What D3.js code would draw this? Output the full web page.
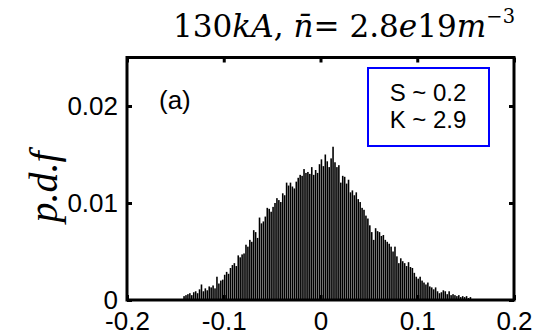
<!DOCTYPE html>
<html><head><meta charset="utf-8">
<script src="https://cdn.jsdelivr.net/npm/d3@7/dist/d3.min.js"></script>
<style>body{margin:0;background:#fff}svg{display:block}</style>
</head><body>
<svg id="c" width="535" height="336"></svg>
<script>
const binStart = -0.142;
const binWidth = 0.002;
const pdfValues = [
0.0004,0.0005,0.0006,0.0007,0.0005,0.0008,0.0009,0.0007,0.0011,0.0016,
0.0009,0.0012,0.0010,0.0014,0.0013,0.0015,0.0012,0.0024,0.0017,0.0020,
0.0021,0.0026,0.0029,0.0027,0.0033,0.0036,0.0038,0.0035,0.0046,0.0044,
0.0047,0.0048,0.0057,0.0055,0.0062,0.0060,0.0072,0.0070,0.0064,0.0085,
0.0079,0.0081,0.0086,0.0095,0.0094,0.0091,0.0096,0.0100,0.0105,0.0103,
0.0101,0.0110,0.0108,0.0121,0.0118,0.0121,0.0117,0.0115,0.0122,0.0126,
0.0129,0.0128,0.0135,0.0131,0.0132,0.0130,0.0137,0.0129,0.0134,0.0131,
0.0140,0.0145,0.0138,0.0150,0.0143,0.0137,0.0146,0.0158,0.0142,0.0137,
0.0139,0.0121,0.0128,0.0127,0.0120,0.0124,0.0111,0.0113,0.0108,0.0111,
0.0104,0.0101,0.0095,0.0093,0.0087,0.0084,0.0077,0.0070,0.0062,0.0074,
0.0071,0.0070,0.0066,0.0067,0.0062,0.0060,0.0058,0.0055,0.0050,0.0055,
0.0045,0.0038,0.0043,0.0040,0.0038,0.0035,0.0039,0.0034,0.0033,0.0028,
0.0024,0.0022,0.0024,0.0020,0.0018,0.0016,0.0018,0.0014,0.0013,0.0011,
0.0013,0.0009,0.0007,0.0008,0.0010,0.0009,0.0006,0.0009,0.0005,0.0006,
0.0005,0.0004,0.0005,0.0003,0.0004,0.0003,0.0004,0.0002,0.0003
];
const xTicks = [-0.2, -0.1, 0, 0.1, 0.2];
const yTicks = [0, 0.01, 0.02];
const statLines = ["S ~ 0.2", "K ~ 2.9"];
const panelLabel = "(a)";

const svg = d3.select("#c");
const L = 127, R = 514, T = 57.5, B = 300;
const x = d3.scaleLinear().domain([-0.2, 0.2]).range([L, R]);
const y = d3.scaleLinear().domain([0, 0.025]).range([B, T]);
const tickFont = "'Liberation Sans', Arial, sans-serif";

// bars
svg.append("g").selectAll("rect").data(pdfValues).join("rect")
  .attr("x", (d,i) => x(binStart + i*binWidth) + 0.15)
  .attr("width", (d,i) => x(binStart + (i+1)*binWidth) - x(binStart + i*binWidth) - 0.35)
  .attr("y", d => y(d))
  .attr("height", d => y(0) - y(d))
  .attr("fill", "#000");

// axes (matlab box with inner ticks)
const ax = svg.append("g");
ax.append("g").attr("transform", `translate(0,${B})`)
  .call(d3.axisBottom(x).tickValues(xTicks).tickSize(-5).tickPadding(12)
    .tickFormat(d => d === 0 ? "0" : d3.format(".1f")(d).replace("−","-")));
ax.append("g").attr("transform", `translate(0,${T})`)
  .call(d3.axisTop(x).tickValues(xTicks).tickSize(-5).tickFormat(""));
ax.append("g").attr("transform", `translate(${L},0)`)
  .call(d3.axisLeft(y).tickValues(yTicks).tickSize(-5).tickPadding(9)
    .tickFormat(d => d === 0 ? "0" : d3.format(".2f")(d)));
ax.append("g").attr("transform", `translate(${R},0)`)
  .call(d3.axisRight(y).tickValues(yTicks).tickSize(-5).tickFormat(""));
ax.selectAll(".domain").remove();
ax.selectAll(".tick line").attr("stroke", "#000").attr("stroke-width", 3);
ax.selectAll(".tick text").attr("font-family", tickFont).attr("font-size", 26).attr("fill", "#000");
svg.append("rect").attr("x", L).attr("y", T).attr("width", R-L).attr("height", B-T)
  .attr("fill", "none").attr("stroke", "#000").attr("stroke-width", 3);

// panel label
svg.append("text").attr("x", 159).attr("y", 109).attr("font-family", tickFont)
  .attr("font-size", 26).text(panelLabel);

// stat box
svg.append("rect").attr("x", 368).attr("y", 68).attr("width", 121).attr("height", 78)
  .attr("fill", "#fff").attr("stroke", "#0000ff").attr("stroke-width", 2);
svg.append("g").selectAll("text").data(statLines).join("text")
  .attr("x", 428).attr("y", (d,i) => 101 + i*27).attr("text-anchor", "middle")
  .attr("font-family", tickFont).attr("font-size", 24).text(d => d);

// title
const serif = "'DejaVu Serif', 'Liberation Serif', serif";
const title = svg.append("text").attr("x", 0).attr("y", 0)
  .attr("font-family", serif).attr("font-size", 32);
title.append("tspan").text("130");
title.append("tspan").attr("font-style", "italic").text("kA");
title.append("tspan").text(", ");
title.append("tspan").attr("font-style", "italic").text("n\u0304");
title.append("tspan").text("= 2.8");
title.append("tspan").attr("font-style", "italic").text("e");
title.append("tspan").text("19");
title.append("tspan").attr("font-style", "italic").text("m");
title.append("tspan").attr("font-size", 20).attr("dy", -14).text("\u22123");
const tb = title.node().getBBox();
const sx = (515 - 173) / tb.width;
title.attr("transform", `translate(${173 - tb.x*sx},37) scale(${sx},1)`);

// y label
const ylab = svg.append("text").attr("text-anchor", "middle")
  .attr("font-family", "'Liberation Serif', serif")
  .attr("font-style", "italic").attr("font-size", 40).text("p.d.f");
ylab.attr("transform", "translate(57,187) rotate(-90)");
</script>
</body></html>
